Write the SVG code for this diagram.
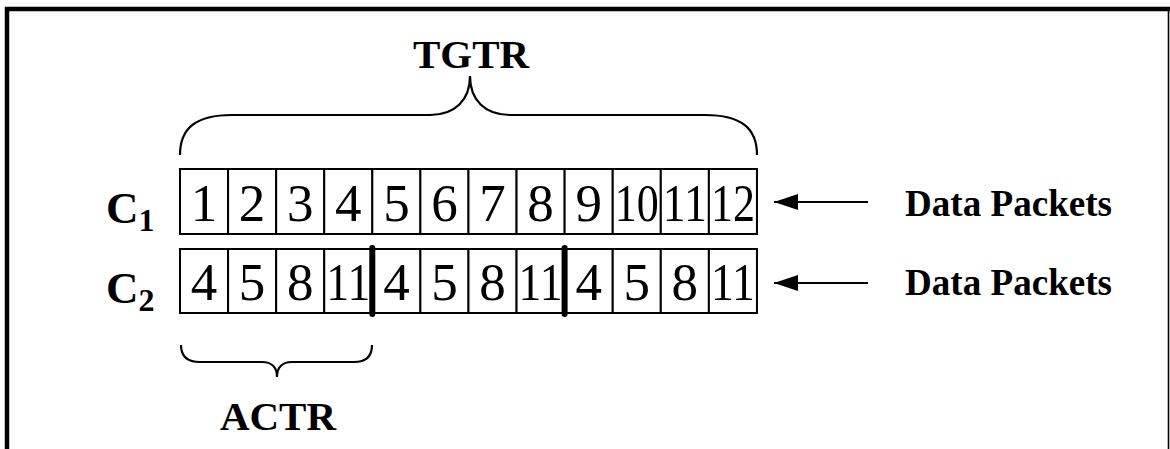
<svg xmlns="http://www.w3.org/2000/svg" width="1170" height="449" viewBox="0 0 1170 449">
  <style>
    .frame { fill: none; stroke: #000; }
    .cell { fill: #fff; stroke: #000; stroke-width: 2; }
    .num { font-family: "Liberation Serif", "Times New Roman", serif; font-size: 53px; text-anchor: middle; fill: #000; }
    .lbl { font-family: "Liberation Serif", "Times New Roman", serif; font-weight: bold; fill: #000; }
    .brace { fill: none; stroke: #000; stroke-width: 2.2; }
    .sep { stroke: #000; stroke-width: 6; stroke-linecap: round; }
    .arrow { stroke: #000; stroke-width: 2; fill: none; }
  </style>
  <defs>
    <marker id="head" markerWidth="24" markerHeight="16" refX="24" refY="8" orient="auto" markerUnits="userSpaceOnUse">
      <path d="M0,0 L24,8 L0,16 Z" fill="#000"/>
    </marker>
  </defs>

  <rect x="0" y="0" width="1170" height="449" fill="#fff"/>

  <!-- outer frame: heavy top/left, thin right -->
  <g id="frame">
    <line class="frame" x1="5" y1="9" x2="1170" y2="9" stroke-width="4.5"/>
    <line class="frame" x1="7" y1="7" x2="7" y2="449" stroke-width="4.5"/>
    <line class="frame" x1="1168.5" y1="9" x2="1168.5" y2="449" stroke-width="1.6"/>
  </g>

  <!-- total range brace -->
  <g id="tgtr">
    <path class="brace" d="M180,155 C180,128 196,115 232,115 L430,115 C455,115 470,100 470,76 C470,100 485,115 510,115 L705,115 C741,115 757,128 757,155"/>
    <text class="lbl" x="471" y="68" font-size="41" text-anchor="middle">TGTR</text>
  </g>

  <!-- channel 1 row -->
  <g id="row-c1">
    <text class="lbl" x="106" y="223" font-size="45">C<tspan font-size="32" dy="8">1</tspan></text>
    <rect class="cell" x="180" y="169" width="48.08" height="65"/>
    <rect class="cell" x="228.08" y="169" width="48.08" height="65"/>
    <rect class="cell" x="276.16" y="169" width="48.08" height="65"/>
    <rect class="cell" x="324.24" y="169" width="48.08" height="65"/>
    <rect class="cell" x="372.32" y="169" width="48.08" height="65"/>
    <rect class="cell" x="420.4" y="169" width="48.08" height="65"/>
    <rect class="cell" x="468.48" y="169" width="48.08" height="65"/>
    <rect class="cell" x="516.56" y="169" width="48.08" height="65"/>
    <rect class="cell" x="564.64" y="169" width="48.08" height="65"/>
    <rect class="cell" x="612.72" y="169" width="48.08" height="65"/>
    <rect class="cell" x="660.8" y="169" width="48.08" height="65"/>
    <rect class="cell" x="708.88" y="169" width="48.08" height="65"/>
    <text class="num" x="204" y="221">1</text>
    <text class="num" x="252.1" y="221">2</text>
    <text class="num" x="300.2" y="221">3</text>
    <text class="num" x="348.3" y="221">4</text>
    <text class="num" x="396.4" y="221">5</text>
    <text class="num" x="444.4" y="221">6</text>
    <text class="num" x="492.5" y="221">7</text>
    <text class="num" x="540.6" y="221">8</text>
    <text class="num" x="588.7" y="221">9</text>
    <text class="num" x="636.8" y="221" textLength="44" lengthAdjust="spacingAndGlyphs">10</text>
    <text class="num" x="684.8" y="221" textLength="44" lengthAdjust="spacingAndGlyphs">11</text>
    <text class="num" x="732.9" y="221" textLength="44" lengthAdjust="spacingAndGlyphs">12</text>
    <text class="lbl" x="905" y="216" font-size="37" textLength="207" lengthAdjust="spacingAndGlyphs">Data Packets</text>
  </g>

  <!-- channel 2 row -->
  <g id="row-c2">
    <text class="lbl" x="106" y="303" font-size="45">C<tspan font-size="32" dy="8">2</tspan></text>
    <rect class="cell" x="180" y="249" width="48.08" height="64"/>
    <rect class="cell" x="228.08" y="249" width="48.08" height="64"/>
    <rect class="cell" x="276.16" y="249" width="48.08" height="64"/>
    <rect class="cell" x="324.24" y="249" width="48.08" height="64"/>
    <rect class="cell" x="372.32" y="249" width="48.08" height="64"/>
    <rect class="cell" x="420.4" y="249" width="48.08" height="64"/>
    <rect class="cell" x="468.48" y="249" width="48.08" height="64"/>
    <rect class="cell" x="516.56" y="249" width="48.08" height="64"/>
    <rect class="cell" x="564.64" y="249" width="48.08" height="64"/>
    <rect class="cell" x="612.72" y="249" width="48.08" height="64"/>
    <rect class="cell" x="660.8" y="249" width="48.08" height="64"/>
    <rect class="cell" x="708.88" y="249" width="48.08" height="64"/>
    <text class="num" x="204" y="300">4</text>
    <text class="num" x="252.1" y="300">5</text>
    <text class="num" x="300.2" y="300">8</text>
    <text class="num" x="348.3" y="300" textLength="44" lengthAdjust="spacingAndGlyphs">11</text>
    <text class="num" x="396.4" y="300">4</text>
    <text class="num" x="444.4" y="300">5</text>
    <text class="num" x="492.5" y="300">8</text>
    <text class="num" x="540.6" y="300" textLength="44" lengthAdjust="spacingAndGlyphs">11</text>
    <text class="num" x="588.7" y="300">4</text>
    <text class="num" x="636.8" y="300">5</text>
    <text class="num" x="684.8" y="300">8</text>
    <text class="num" x="732.9" y="300" textLength="44" lengthAdjust="spacingAndGlyphs">11</text>
    <text class="lbl" x="905" y="295" font-size="37" textLength="207" lengthAdjust="spacingAndGlyphs">Data Packets</text>
  </g>

  <!-- cycle boundaries in channel 2 -->
  <g id="separators">
    <line class="sep" x1="372.3" y1="248" x2="372.3" y2="314"/>
    <line class="sep" x1="564.6" y1="248" x2="564.6" y2="314"/>
  </g>

  <!-- one-cycle brace -->
  <g id="actr">
    <path class="brace" d="M181,345 C181,356 187,362 200,362 L262,362 C272,362 277,368 277,377 C277,368 282,362 292,362 L354,362 C367,362 372,356 372,345"/>
    <text class="lbl" x="278" y="430" font-size="41" text-anchor="middle">ACTR</text>
  </g>

  <!-- incoming packet arrows -->
  <g id="connectors">
    <line class="arrow" x1="868" y1="202" x2="774" y2="202" marker-end="url(#head)"/>
    <line class="arrow" x1="868" y1="283" x2="774" y2="283" marker-end="url(#head)"/>
  </g>
</svg>
